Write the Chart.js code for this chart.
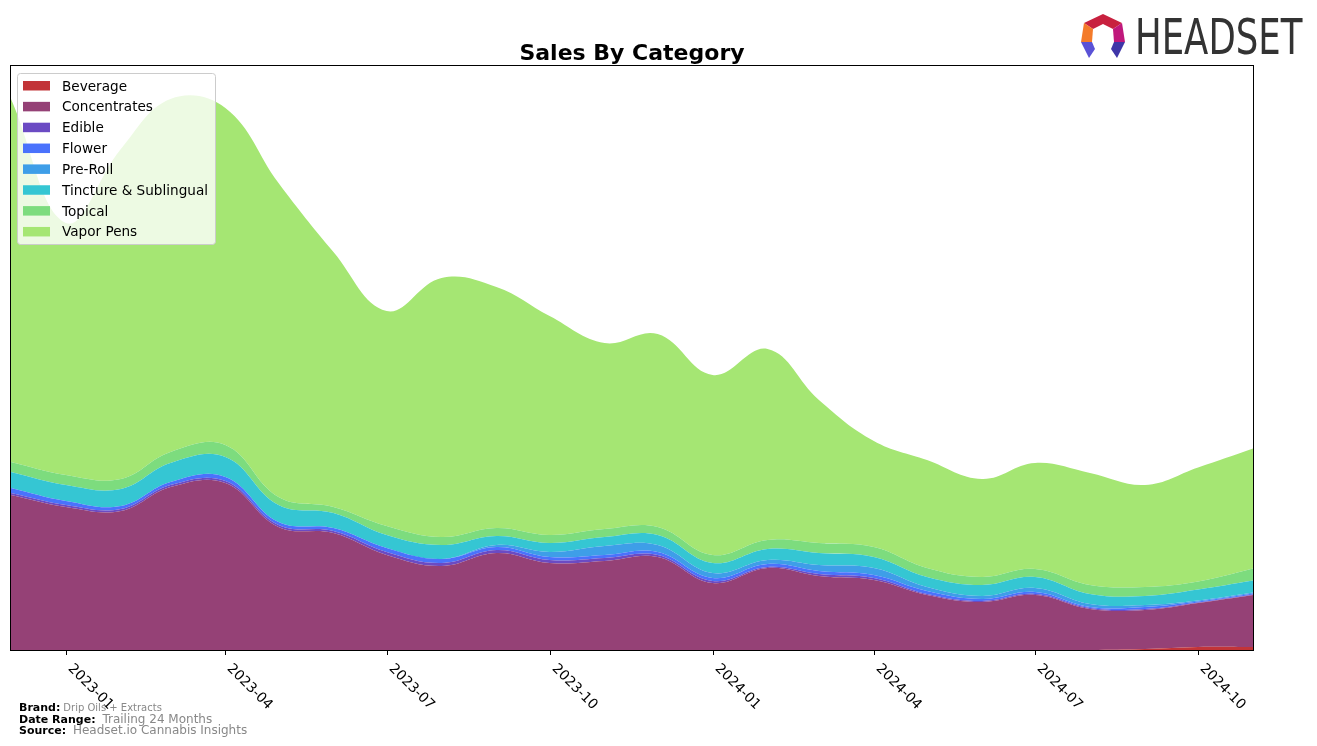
<!DOCTYPE html>
<html>
<head>
<meta charset="utf-8">
<title>Sales By Category</title>
<script src="https://cdn.jsdelivr.net/npm/chart.js@4.4.1/dist/chart.umd.min.js"></script>
<style>
  html, body { margin: 0; padding: 0; background: #fff; }
  body { width: 1317px; height: 746px; position: relative; overflow: hidden; font-family: "DejaVu Sans", sans-serif; }
  #chart { position: absolute; left: 0; top: 0; }
  .logo-icon { position: absolute; left: 1080px; top: 13px; }
  .logo-text { position: absolute; left: 1135px; top: 12px; font-size: 50px; line-height: 50px; color: #333; transform-origin: 0 0; transform: scaleX(0.71); white-space: nowrap; }
  .foot { position: absolute; left: 19px; white-space: nowrap; color: #888; }
  .foot b { color: #000; font-size: 11px; margin-right: 3px; }
</style>
</head>
<body>
<canvas id="chart" width="1317" height="746"></canvas>

<svg class="logo-icon" width="46" height="46" viewBox="0 0 46 46">
  <polygon points="23,1 42,10 33,16 23,11 13,16 4,10" fill="#c8213f"/>
  <polygon points="4,10 13,16 12,29 1,29" fill="#f47b2a"/>
  <polygon points="42,10 45,29 34,29 33,16" fill="#c0187c"/>
  <polygon points="1,29 12,29 15,36 9,45" fill="#5a52d6"/>
  <polygon points="45,29 34,29 31,36 37,45" fill="#3f36a8"/>
</svg>
<div class="logo-text">HEADSET</div>

<div class="foot" style="top:701px;font-size:10px;"><b>Brand:</b>Drip Oils + Extracts</div>
<div class="foot" style="top:712px;font-size:12px;"><b>Date Range:</b> Trailing 24 Months</div>
<div class="foot" style="top:723px;font-size:12px;"><b>Source:</b> Headset.io Cannabis Insights</div>

<script>
// monthly sales, stacked bottom to top
const months = ['2022-12', '2023-01', '2023-02', '2023-03', '2023-04', '2023-05', '2023-06', '2023-07',
    '2023-08', '2023-09', '2023-10', '2023-11', '2023-12', '2024-01', '2024-02', '2024-03',
    '2024-04', '2024-05', '2024-06', '2024-07', '2024-08', '2024-09', '2024-10', '2024-11'];
const tickLabels = ['2023-01', '2023-04', '2023-07', '2023-10', '2024-01', '2024-04', '2024-07', '2024-10'];
const categories = ['Beverage', 'Concentrates', 'Edible', 'Flower', 'Pre-Roll', 'Tincture & Sublingual', 'Topical', 'Vapor Pens'];

const beverage = [0, 0, 0, 0, 0, 0, 0, 0, 0, 0, 0, 0, 0, 0, 0, 0, 0, 0, 0, 0, 0, 1, 3, 3];
const concentrates = [155, 143, 139, 163, 167, 123, 117, 95, 84, 97, 87, 89, 93, 67, 82, 74, 70, 55, 48, 55, 41, 39, 44, 52];
const edible = [2, 2, 2, 2, 2, 2, 2, 3, 3, 3, 3, 3, 2, 2, 1, 2, 2, 1, 1, 1, 1, 1, 0.5, 0.5];
const flower = [5, 4, 3, 3, 4, 3, 3, 4, 4, 3, 3, 3, 3, 3, 3, 3, 3, 3, 2, 2, 1, 2, 1, 1];
const preRoll = [0, 0, 0, 0, 0, 0, 0, 0, 0, 2, 5, 9, 7, 5, 4, 6, 7, 4, 3, 4, 3, 2, 1, 1];
const tincture = [16, 16, 17, 19, 20, 17, 15, 13, 14, 9, 9, 9, 10, 10, 11, 12, 11, 10, 11, 11, 10, 9, 11, 12];
const topical = [10, 10, 10, 11, 12, 8, 6, 9, 8, 8, 8, 8, 8, 8, 9, 10, 10, 9, 8, 8, 9, 9, 8, 12];
const vaporPens = [363, 252, 330, 353, 337, 314, 255, 215, 259, 241, 219, 186, 193, 180, 191, 143, 106, 108, 98, 106, 112, 102, 114, 120];

const series = [beverage, concentrates, edible, flower, preRoll, tincture, topical, vaporPens];
const colors = ['#c23438', '#954176', '#6b4bc3', '#4a72fc', '#3e9ee8', '#35c6d3', '#7ddc7e', '#a5e673'];

// days since first month, so the x axis is a true time axis
function dayIndex(ym) {
    const [y, m] = ym.split('-').map(Number);
    const [y0, m0] = months[0].split('-').map(Number);
    return (Date.UTC(y, m - 1, 1) - Date.UTC(y0, m0 - 1, 1)) / 86400000;
}

const FONT = '"DejaVu Sans", sans-serif';

// frame, rotated ticks and the in-plot legend
const decorPlugin = {
    id: 'decor',
    afterDraw(chart) {
        const ctx = chart.ctx;
        const a = chart.chartArea;
        const x = chart.scales.x;
        ctx.save();
        ctx.strokeStyle = '#000';
        ctx.lineWidth = 1;
        ctx.strokeRect(a.left - 0.5, a.top - 0.5, a.right - a.left + 1, a.bottom - a.top + 1);

        ctx.font = '13.9px ' + FONT;
        ctx.fillStyle = '#000';
        tickLabels.forEach(lbl => {
            const px = Math.round(x.getPixelForValue(dayIndex(lbl))) + 0.5;
            ctx.beginPath();
            ctx.moveTo(px, a.bottom);
            ctx.lineTo(px, a.bottom + 5);
            ctx.stroke();
            ctx.save();
            ctx.translate(px + 1, a.bottom + 19);
            ctx.rotate(Math.PI / 4);
            ctx.textAlign = 'left';
            ctx.textBaseline = 'alphabetic';
            ctx.fillText(lbl, 0, 0);
            ctx.restore();
        });

        // legend box
        const lx = 17.5, ly = 73.5, lw = 198, lh = 171, r = 3;
        ctx.beginPath();
        ctx.moveTo(lx + r, ly);
        ctx.arcTo(lx + lw, ly, lx + lw, ly + lh, r);
        ctx.arcTo(lx + lw, ly + lh, lx, ly + lh, r);
        ctx.arcTo(lx, ly + lh, lx, ly, r);
        ctx.arcTo(lx, ly, lx + lw, ly, r);
        ctx.closePath();
        ctx.fillStyle = 'rgba(255,255,255,0.8)';
        ctx.fill();
        ctx.strokeStyle = '#cccccc';
        ctx.stroke();

        ctx.font = '13.6px ' + FONT;
        ctx.textBaseline = 'middle';
        ctx.textAlign = 'left';
        chart.data.datasets.forEach((ds, i) => {
            const cy = 87 + i * 20.85;
            ctx.fillStyle = ds.backgroundColor;
            ctx.fillRect(23, cy - 6, 27, 9.5);
            ctx.fillStyle = '#000';
            ctx.fillText(ds.label, 62, cy);
        });
        ctx.restore();
    }
};

const datasets = categories.map((name, i) => ({
    label: name,
    data: months.map((m, j) => ({ x: dayIndex(m), y: series[i][j] })),
    backgroundColor: colors[i],
    borderColor: colors[i],
    borderWidth: 0,
    pointRadius: 0,
    tension: 0.4,
    fill: i === 0 ? 'origin' : '-1'
}));

new Chart(document.getElementById('chart').getContext('2d'), {
    type: 'line',
    data: { datasets: datasets },
    options: {
        responsive: false,
        animation: false,
        devicePixelRatio: 1,
        layout: { padding: { left: 11, right: 64, top: 0, bottom: 96 } },
        scales: {
            x: { type: 'linear', display: false, min: 0, max: dayIndex(months[months.length - 1]) },
            y: { display: false, stacked: true, min: 0, max: 584 }
        },
        plugins: {
            legend: { display: false },
            tooltip: { enabled: false },
            title: {
                display: true,
                text: 'Sales By Category',
                color: '#000',
                font: { family: FONT, size: 22, weight: 'bold', lineHeight: 1 },
                padding: { top: 43, bottom: 1 }
            }
        }
    },
    plugins: [decorPlugin]
});
</script>
</body>
</html>
